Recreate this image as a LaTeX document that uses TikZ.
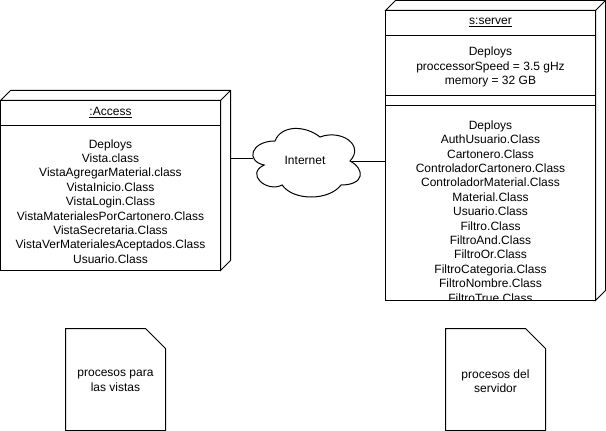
\documentclass[tikz,border=0pt]{standalone}
\usepackage{fontspec}
\setmainfont{Liberation Sans}
\begin{document}
\begin{tikzpicture}[x=0.75pt,y=-0.75pt,line width=0.75pt,
  frontbox/.style={draw,fill=white,inner sep=0pt,outer sep=0pt,anchor=north west},
  depthface/.style={draw,fill=white,line join=miter},
  txt/.style={font=\fontsize{9}{10.8}\selectfont,align=center,inner sep=0pt},
  notebox/.style={draw,fill=white,line join=miter},
  conn/.style={draw,line width=0.75pt}]
\useasboundingbox (0,0) rectangle (606,431);

% ---- :Access node ----
\draw[depthface] (0.5,100.5) -- (10.5,90.5) -- (230.5,90.5) -- (230.5,260.5) -- (220.5,270.5) -- (220.5,100.5) -- cycle;
\draw (220.5,100.5) -- (230.5,90.5);
\node[frontbox,minimum width=165pt,minimum height=127.5pt] (access) at (0.5,100.5) {};
\draw (0.5,125.5) -- (220.5,125.5);
\node[txt] (accname) at (110.5,112.5) {\underline{:Access}};
\node[txt] (accbody) at (110.5,201.5) {Deploys\\Vista.class\\VistaAgregarMaterial.class\\VistaInicio.Class\\VistaLogin.Class\\VistaMaterialesPorCartonero.Class\\VistaSecretaria.Class\\VistaVerMaterialesAceptados.Class\\Usuario.Class};

% ---- s:server node ----
\draw[depthface] (385.5,10.5) -- (395.5,0.5) -- (605.5,0.5) -- (605.5,290.5) -- (595.5,300.5) -- (595.5,10.5) -- cycle;
\draw (595.5,10.5) -- (605.5,0.5);
\node[frontbox,minimum width=157.5pt,minimum height=217.5pt] (server) at (385.5,10.5) {};
\draw (385.5,35.5) -- (595.5,35.5);
\draw (385.5,95.5) -- (595.5,95.5);
\draw (385.5,105.5) -- (595.5,105.5);
\node[txt] (srvname) at (490.5,22.5) {\underline{s:server}};
\node[txt] (srvattr) at (490.5,67) {Deploys\\proccessorSpeed = 3.5 gHz\\memory = 32 GB};
\begin{scope}
  \clip (385.5,106) rectangle (595.5,300.5);
  \node[txt] (srvbody) at (490.5,211.5) {Deploys\\AuthUsuario.Class\\Cartonero.Class\\ControladorCartonero.Class\\ControladorMaterial.Class\\Material.Class\\Usuario.Class\\Filtro.Class\\FiltroAnd.Class\\FiltroOr.Class\\FiltroCategoria.Class\\FiltroNombre.Class\\FiltroTrue.Class};
\end{scope}
\draw (385.5,300.5) -- (595.5,300.5);

% ---- Internet cloud ----
\coordinate (cloudL) at (253.4,158.3);
\coordinate (cloudR) at (350,161);
\draw[conn] ([xshift=7.5pt]access.east |- cloudL) -- (cloudL);
\draw[conn] (cloudR) -- (server.west |- cloudR);
\draw[fill=white] (275,141) .. controls (251,141) and (245,161) .. (264.2,165)
  .. controls (245,173.8) and (266.6,193) .. (282.2,185)
  .. controls (293,201) and (329,201) .. (341,185)
  .. controls (365,185) and (365,169) .. (350,161)
  .. controls (365,145) and (341,129) .. (320,137)
  .. controls (305,125) and (281,125) .. (275,141) -- cycle;
\node[txt] (inet) at (305,160.5) {Internet};

% ---- notes ----
\draw[notebox] (65.5,328.5) -- (145.5,328.5) -- (165.5,348.5) -- (165.5,430.5) -- (65.5,430.5) -- cycle;
\node[txt] (note1) at (115.5,381) {procesos para\\las vistas};
\draw[notebox] (445.5,328.5) -- (525.5,328.5) -- (545.5,348.5) -- (545.5,430.5) -- (445.5,430.5) -- cycle;
\node[txt] (note2) at (495.5,381) {procesos del\\servidor};
\end{tikzpicture}
\end{document}
